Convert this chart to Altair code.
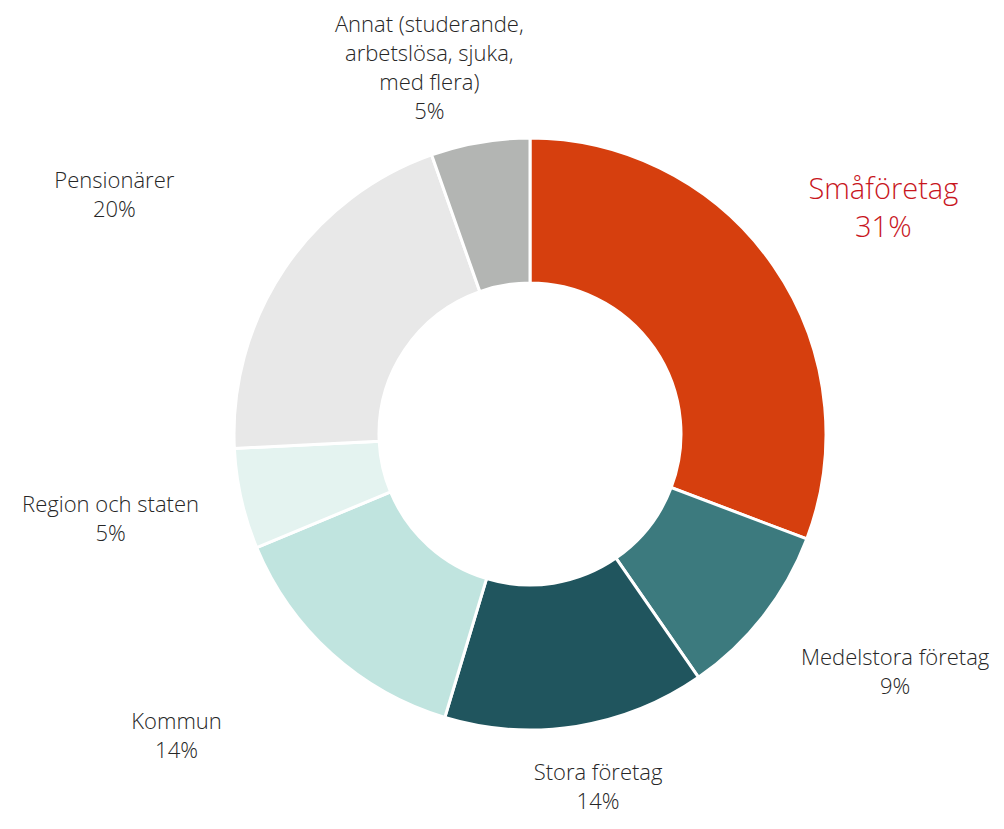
import math
import altair as alt
import pandas as pd

categories = ["Småföretag", "Medelstora företag", "Stora företag", "Kommun",
              "Region och staten", "Pensionärer", "Annat (studerande, arbetslösa, sjuka, med flera)"]
values = [30.8, 9.6, 14.3, 14.1, 5.5, 20.4, 5.4]
pct_labels = ["31%", "9%", "14%", "14%", "5%", "20%", "5%"]
label_lines = ["Småföretag", "Medelstora företag", "Stora företag", "Kommun",
               "Region och staten", "Pensionärer", "Annat (studerande,\narbetslösa, sjuka,\nmed flera)"]
colors = ["#D63F0E", "#3C7A7E", "#20555E", "#C0E4DF", "#E4F3F0", "#E8E8E8", "#B3B5B3"]

total = sum(values)
df = pd.DataFrame({
    "category": categories,
    "value": values,
    "idx": list(range(len(categories))),
    "label": [f"{l}\n{p}" for l, p in zip(label_lines, pct_labels)],
})

CX, CY = 522, 426

arcs = alt.Chart(df).mark_arc(
    outerRadius=296, innerRadius=151, stroke="white", strokeWidth=3
).encode(
    theta=alt.Theta("value:Q", stack=True),
    order=alt.Order("idx:O"),
    color=alt.Color("category:N", scale=alt.Scale(domain=categories, range=colors), legend=None),
    x=alt.value(CX), y=alt.value(CY),
)

# label placement: (radius, theta offset in degrees, font size, colour, line height)
placement = {
    "Småföretag": (419, 2.1, 29, "#C8161D", 38),
    "Medelstora företag": (436, -4.9, 22, "#262626", 29),
    "Stora företag": (360, -1.9, 22, "#262626", 29),
    "Kommun": (465, 7.4, 22, "#262626", 29),
    "Region och staten": (428, 1.2, 22, "#262626", 29),
    "Pensionärer": (479, -4.1, 22, "#262626", 29),
    categories[6]: (379, -5.7, 22, "#262626", 29),
}

base_text = alt.Chart(df).transform_window(
    cum="sum(value)", sort=[alt.SortField("idx")]
).transform_calculate(
    mid="datum.cum - datum.value / 2"
)

layers = [arcs]
for cat, lab in zip(categories, df["label"]):
    r, off, fs, col, lh = placement[cat]
    n = lab.count("\n") + 1
    t = base_text.transform_filter(alt.datum.category == cat).mark_text(
        radius=r, thetaOffset=math.radians(off), fontSize=fs, color=col,
        font="Open Sans", fontWeight=300, lineBreak="\n", lineHeight=lh,
        align="center", baseline="middle", dy=-(n - 1) * lh / 2,
    ).encode(
        theta=alt.Theta("mid:Q", stack=None, scale=alt.Scale(domain=[0, total], range=[0, 2 * math.pi])),
        text="label:N",
        x=alt.value(CX), y=alt.value(CY),
    )
    layers.append(t)

chart = alt.layer(*layers).properties(
    width=988, height=813, padding=0, autosize=alt.AutoSizeParams(type="none")
).configure_view(stroke=None)

chart.save("out.html", embed_options={"renderer": "svg", "actions": False})
